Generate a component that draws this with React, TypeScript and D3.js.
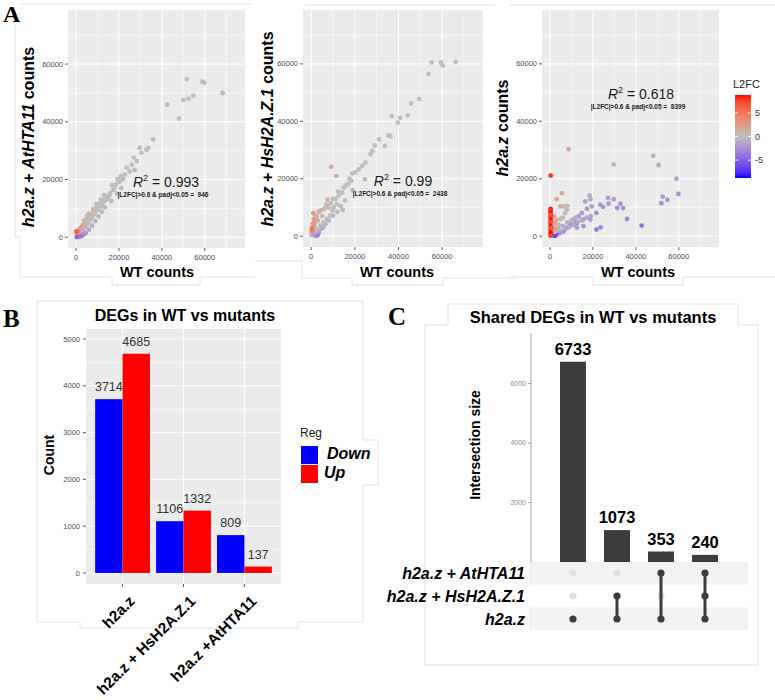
import React from "react";
import * as d3 from "d3";

const FONT = "'Liberation Sans', Arial, Helvetica, sans-serif";
const SERIF = "'Liberation Serif', 'Times New Roman', serif";

// Panel A: [WT counts (thousands), mutant counts (thousands), L2FC]
const atHTA11Points: number[][] = [
  [68.3, 50.0, -0.4], [59.7, 53.5, -0.1], [58.9, 53.9, -0.1], [51.6, 54.8, 0.1], [54.7, 49.1, -0.1],
  [52.4, 48.0, -0.1], [50.0, 47.6, -0.1], [42.5, 45.9, 0.1], [48.0, 41.1, -0.2],
  [35.9, 33.9, -0.1], [33.6, 30.9, -0.1], [32.8, 30.3, -0.1], [29.6, 31.0, 0.1], [30.5, 29.2, 0],
  [26.9, 27.6, 0], [28.3, 26.4, -0.1], [26.0, 25.1, 0], [27.4, 23.3, -0.2], [25.0, 22.8, -0.1],
  [23.6, 24.1, 0], [22.8, 21.7, 0], [21.9, 20.1, -0.1], [20.9, 21.2, 0], [20.3, 19.3, 0],
  [19.4, 20.1, 0.1], [18.8, 18.4, 0], [18.0, 17.3, 0], [17.3, 16.4, -0.1], [16.8, 18.0, 0.1],
  [15.9, 15.3, 0], [15.4, 14.4, -0.1], [14.8, 13.3, -0.1], [14.0, 14.1, 0], [13.4, 12.6, 0],
  [12.9, 13.0, 0], [12.4, 11.9, 0], [11.9, 10.9, 0], [11.5, 11.6, 0.1], [11.0, 10.4, 0],
  [10.4, 11.1, 0.1], [10.0, 9.4, 0], [9.5, 10.1, 0.1], [9.0, 8.8, 0], [8.5, 7.9, 0],
  [8.0, 8.6, 0.3], [7.5, 6.9, 0], [7.0, 7.6, 0.4], [6.5, 5.9, 0], [6.0, 8.1, 0.9],
  [6.1, 5.4, 0], [5.5, 4.9, 0], [5.0, 6.6, 1.1], [5.1, 4.3, -0.2], [4.5, 3.9, -0.2],
  [4.0, 5.2, 1.3], [4.0, 3.3, -0.3], [3.5, 2.9, -0.3], [3.0, 4.1, 1.6], [3.0, 2.3, -0.5],
  [2.5, 1.9, -0.6], [2.0, 3.1, 2.2], [2.0, 1.3, -0.8], [1.5, 0.9, -1.2], [1.0, 2.2, 3.2],
  [8.0, 9.8, 0.3], [9.5, 11.5, 0.3], [11.5, 13.0, 0.2], [13.0, 14.6, 0.2], [5.2, 7.5, 0.6],
  [3.8, 5.8, 0.8], [16.5, 12.5, -0.4], [19.0, 15.2, -0.3], [21.0, 17.0, -0.3],
  [13.5, 10.3, -0.3], [12.0, 8.8, -0.4], [10.5, 7.2, -0.5], [9.0, 5.6, -0.7], [7.5, 4.0, -0.9],
  [6.0, 2.6, -1.2], [4.5, 1.4, -1.8], [3.5, 0.8, -2.5], [2.5, 0.4, -3.5], [1.5, 0.2, -4],
  [1.0, 0.4, -2.5], [0.4, 0.1, -5], [0.5, 1.5, 4.2], [0.2, 2.0, 6.5],
];

const hsH2AZ1Points: number[][] = [
  [66.2, 60.7, -0.1], [59.5, 60.5, 0], [60.3, 59.4, 0], [55.2, 60.5, 0.1], [53.8, 56.5, 0],
  [49.5, 47.8, 0], [45.8, 46.2, 0], [44.2, 42.0, 0], [40.8, 41.2, 0], [39.7, 39.5, 0], [36.9, 41.8, 0.1],
  [35.4, 35.1, 0], [36.3, 34.8, 0], [33.8, 31.4, -0.1], [31.1, 33.7, 0.1], [29.1, 31.6, 0.1],
  [28.0, 29.7, 0.1], [27.2, 28.5, 0], [24.9, 25.6, 0], [23.4, 24.5, 0], [21.8, 23.3, 0],
  [20.3, 22.2, 0.1], [18.8, 21.9, 0.2], [24.6, 19.8, -0.3], [18.5, 19.3, 0], [16.9, 18.1, 0.1],
  [14.9, 17.0, 0.1], [14.2, 15.2, 0], [12.6, 14.1, 0.1], [11.1, 12.9, 0.2], [11.8, 11.2, 0],
  [10.3, 10.0, 0], [9.8, 8.9, 0], [14.5, 9.2, -0.5], [8.8, 7.2, -0.1], [7.2, 6.0, -0.1],
  [5.7, 4.8, -0.1], [4.2, 3.7, -0.1], [2.6, 2.5, 0],
  [9.2, 24.2, 1.4], [11.5, 21.0, 0.9], [7.4, 12.7, 0.9],
  [16.0, 17.8, 0.1], [17.5, 20.0, 0.2], [12.5, 15.5, 0.3], [10.0, 13.0, 0.3], [9.0, 11.5, 0.3],
  [8.0, 10.0, 0.3], [7.0, 11.0, 0.6], [6.0, 9.5, 0.6], [5.0, 7.0, 0.5], [4.5, 9.0, 0.9],
  [3.5, 8.5, 1.2], [3.0, 5.5, 1.0], [2.5, 7.0, 1.4], [2.0, 5.0, 1.5], [1.5, 3.5, 1.8],
  [1.2, 6.0, 2.5], [1.0, 8.0, 2.5], [0.8, 4.5, 3], [0.5, 3.0, 3.5], [0.3, 1.5, 3],
  [0.2, 0.5, 2], [1.0, 1.0, 0.5], [19.0, 16.0, -0.2], [15.5, 12.5, -0.2], [13.5, 10.5, -0.2],
  [12.0, 8.5, -0.4], [10.0, 7.2, -0.4], [8.0, 5.5, -0.5], [6.5, 4.2, -0.7], [5.5, 3.0, -1],
  [4.5, 2.5, -1], [3.5, 1.2, -2], [3.0, 0.5, -3], [2.5, 0.2, -4], [2.0, 1.5, -0.3],
  [1.5, 0.3, -2], [0.5, 2.0, 4], [0.3, 2.5, 5],
];

const h2azPoints: number[][] = [
  [8.6, 30.3, 1.5], [29.7, 25.0, -0.5], [48.1, 28.0, -1.0], [50.6, 24.8, -1.3], [58.9, 20.0, -1.5],
  [59.8, 14.7, -2.0], [52.5, 13.8, -2.0], [51.9, 11.5, -2.3], [54.7, 12.7, -2.2], [42.7, 3.7, -4.0],
  [35.9, 6.0, -3.0], [34.1, 9.8, -2.5], [32.8, 11.3, -2.3], [31.3, 9.8, -2.4], [27.0, 13.3, -1.7],
  [29.7, 12.9, -1.8], [27.3, 11.3, -2.0], [24.7, 10.2, -2.0], [23.4, 11.0, -2.0], [21.6, 8.1, -2.5],
  [21.6, 2.3, -3.5], [23.6, 3.1, -3.0], [18.8, 12.9, -1.3], [18.4, 14.1, -1.2], [16.4, 12.1, -1.4],
  [19.5, 10.4, -1.8], [17.2, 9.5, -2.0], [14.8, 8.1, -2.0], [13.3, 6.9, -2.2], [15.3, 5.8, -2.6],
  [12.5, 4.6, -2.8], [10.9, 5.8, -2.0], [9.4, 4.0, -2.5], [7.8, 2.9, -3.0], [6.3, 1.7, -3.5],
  [4.7, 1.2, -4.0], [3.1, 0.6, -5.0], [1.6, 0.2, -6.0], [2.3, 0.1, -6.5],
  [19.0, 7.0, -1.3], [17.0, 6.5, -1.2], [15.0, 5.5, -1.3], [13.0, 5.0, -1.2], [11.0, 4.0, -1.3],
  [9.0, 3.2, -1.3], [7.0, 2.5, -1.4], [5.0, 1.5, -1.5], [12.0, 6.5, -0.9], [10.0, 5.5, -0.8],
  [8.0, 4.8, -0.7], [6.0, 3.5, -0.8], [4.0, 2.5, -0.6], [3.0, 2.0, -0.4], [2.0, 1.5, -0.3],
  [15.6, 3.5, -2.4], [18.8, 5.8, -1.9], [12.5, 3.0, -2.0],
  [7.0, 8.1, 0.2], [7.8, 9.2, 0], [6.3, 10.4, 0.5], [4.7, 10.4, 1.0], [5.5, 15.0, 1.5],
  [3.1, 12.9, 2.0], [8.1, 10.6, 0.3], [1.6, 6.9, 3.0], [3.1, 5.8, 1.5], [2.3, 4.6, 2.0],
  [5.0, 6.0, 0.5], [4.0, 4.0, 0.6], [6.0, 6.5, 0.2], [2.5, 3.0, 1.2], [1.5, 2.5, 2.5],
  [0.3, 9.5, 8.5], [0.2, 9.0, 8.0], [0.3, 8.1, 8.8], [0.2, 6.9, 8.2], [0.3, 5.8, 8.6],
  [0.2, 4.6, 8.0], [0.3, 3.5, 8.7], [0.2, 2.3, 8.3], [0.3, 1.2, 8.8], [0.2, 0.2, 7.5],
  [0.4, 7.5, 7.0], [0.4, 5.0, 7.2], [0.5, 2.8, 6.5], [0.3, 21.1, 8.0],
];

const countsDomain = [-3750, 78750];
const scatterTicks = [0, 20000, 40000, 60000];
const scatterMinor = [10000, 30000, 50000, 70000];
const l2fcLimits = [-8.8, 8.8];
const l2fcTicks = [5, 0, -5];

// Panel B
const degCategories = ["h2a.z", "h2a.z + HsH2A.Z.1", "h2a.z +AtHTA11"];
const degDown = [3714, 1106, 809];
const degUp = [4685, 1332, 137];
const degTicks = [0, 1000, 2000, 3000, 4000, 5000];
const degMinor = [500, 1500, 2500, 3500, 4500];
const regLabels = ["Down", "Up"];

// Panel C
const upsetSets = ["h2a.z + AtHTA11", "h2a.z + HsH2A.Z.1", "h2a.z"];
const upsetSizes = [6733, 1073, 353, 240];
const upsetMembership = [
  [false, false, true],
  [false, true, true],
  [true, false, true],
  [true, true, true],
];
const upsetTicks = [2000, 4000, 6000];

const colorL2FC = d3
  .scaleLinear<string>()
  .domain([l2fcLimits[0], 0, l2fcLimits[1]])
  .range(["#0000FF", "#BEBEBE", "#FF0000"])
  .interpolate(d3.interpolateLab)
  .clamp(true);

const fmt = (v: number) => String(v);

type ScatterProps = {
  id: string;
  left: number; right: number; top: number; bottom: number;
  points: number[][];
  ylab: string;
  ylabX: number; ylabY: number;
  xlabX: number;
  r2: string; r2X: number; r2Y: number;
  count: number;
  clipX: number;
};

function Scatter(p: ScatterProps) {
  const x = d3.scaleLinear().domain(countsDomain).range([p.left, p.right]);
  const y = d3.scaleLinear().domain(countsDomain).range([p.bottom, p.top]);
  return (
    <g>
      <defs>
        <clipPath id={"clip-" + p.id}>
          <rect x={p.clipX} y={0} width={400} height={300} />
        </clipPath>
      </defs>
      <rect x={p.left} y={p.top} width={p.right - p.left} height={p.bottom - p.top} fill="#EBEBEB" />
      {scatterMinor.map((v) => (
        <g key={"m" + v}>
          {x(v) < p.right && <line x1={x(v)} x2={x(v)} y1={p.top} y2={p.bottom} stroke="#fff" strokeWidth={0.5} />}
          {y(v) > p.top && <line x1={p.left} x2={p.right} y1={y(v)} y2={y(v)} stroke="#fff" strokeWidth={0.5} />}
        </g>
      ))}
      {scatterTicks.map((v) => (
        <g key={"M" + v}>
          <line x1={x(v)} x2={x(v)} y1={p.top} y2={p.bottom} stroke="#fff" strokeWidth={1} />
          <line x1={p.left} x2={p.right} y1={y(v)} y2={y(v)} stroke="#fff" strokeWidth={1} />
        </g>
      ))}
      {p.points.map((d, i) => (
        <circle key={i} cx={x(d[0] * 1000)} cy={y(d[1] * 1000)} r={2.4} fill={colorL2FC(d[2])} />
      ))}
      {scatterTicks.map((v) => (
        <g key={"t" + v} fontFamily={FONT} fontSize={7.5} fill="#4D4D4D">
          <line x1={x(v)} x2={x(v)} y1={p.bottom} y2={p.bottom + 3} stroke="#333" strokeWidth={0.8} />
          <text x={x(v)} y={p.bottom + 11.5} textAnchor="middle">{fmt(v)}</text>
          <line x1={p.left - 3} x2={p.left} y1={y(v)} y2={y(v)} stroke="#333" strokeWidth={0.8} />
          <text x={p.left - 5} y={y(v)} dy="0.35em" textAnchor="end" clipPath={`url(#clip-${p.id})`}>{fmt(v)}</text>
        </g>
      ))}
      <text x={p.xlabX} y={277} textAnchor="middle" fontFamily={FONT} fontWeight="bold" fontSize={14.5} fill="#000">WT counts</text>
      <text transform={`translate(${p.ylabX},${p.ylabY}) rotate(-90)`} dy="0.35em" textAnchor="middle" fontFamily={FONT} fontWeight="bold" fontSize={16} fill="#000">
        {p.ylab.split(/(\s\+\s|\scounts)/).filter((s) => s.length).map((s, i) => (
          <tspan key={i} fontStyle={/^\s/.test(s) ? "normal" : "italic"}>{s}</tspan>
        ))}
      </text>
      <text x={p.r2X} y={p.r2Y} textAnchor="middle" fontFamily={FONT} fontSize={14} fill="#1a1a1a">
        <tspan fontStyle="italic">R</tspan>
        <tspan dy={-6} fontSize={9}>2</tspan>
        <tspan dy={6}>{" = " + p.r2}</tspan>
      </text>
      <text x={p.r2X - 3} y={p.r2Y + 10} textAnchor="middle" fontFamily={FONT} fontWeight="bold" fontSize={6.5} fill="#1a1a1a" style={{ whiteSpace: "pre" }}>
        {"|L2FC|>0.6 & padj<0.05 =  " + p.count}
      </text>
    </g>
  );
}

function ColorLegend() {
  const bx = 735, bw = 16, btop = 95, bbot = 178;
  const yc = d3.scaleLinear().domain(l2fcLimits).range([bbot, btop]);
  const stops = d3.range(0, 21).map((i) => l2fcLimits[0] + (i / 20) * (l2fcLimits[1] - l2fcLimits[0]));
  return (
    <g fontFamily={FONT}>
      <defs>
        <linearGradient id="l2fcGrad" x1="0" y1="1" x2="0" y2="0">
          {stops.map((v, i) => (
            <stop key={i} offset={i / 20} stopColor={colorL2FC(v)} />
          ))}
        </linearGradient>
      </defs>
      <text x={733} y={88} fontSize={11} fill="#1a1a1a">L2FC</text>
      <rect x={bx} y={btop} width={bw} height={bbot - btop} fill="url(#l2fcGrad)" />
      {l2fcTicks.map((v) => (
        <g key={v}>
          <line x1={bx} x2={bx + 3} y1={yc(v)} y2={yc(v)} stroke="#fff" strokeWidth={0.8} />
          <line x1={bx + bw - 3} x2={bx + bw} y1={yc(v)} y2={yc(v)} stroke="#fff" strokeWidth={0.8} />
          <text x={755} y={yc(v)} dy="0.35em" fontSize={9} fill="#333">{v}</text>
        </g>
      ))}
    </g>
  );
}

function PanelB() {
  const left = 86, right = 281, top = 329, bottom = 584;
  const y = d3.scaleLinear().domain([-236, 5214]).range([bottom, top]);
  const unit = (right - left) / (degCategories.length + 0.2);
  const xc = d3.scaleLinear().domain([-0.6, degCategories.length - 1 + 0.6]).range([left, right]);
  const bw = unit * 0.45;
  return (
    <g fontFamily={FONT}>
      <defs>
        <clipPath id="clipB">
          <rect x={0} y={300} width={400} height={107} />
          <rect x={61} y={407} width={400} height={93} />
          <rect x={0} y={500} width={400} height={100} />
        </clipPath>
      </defs>
      <text x={185} y={321} textAnchor="middle" fontWeight="bold" fontSize={16} fill="#000">DEGs in WT vs mutants</text>
      <rect x={left} y={top} width={right - left} height={bottom - top} fill="#EBEBEB" />
      {degMinor.map((v) => (
        <line key={v} x1={left} x2={right} y1={y(v)} y2={y(v)} stroke="#fff" strokeWidth={0.5} />
      ))}
      {degTicks.map((v) => (
        <line key={v} x1={left} x2={right} y1={y(v)} y2={y(v)} stroke="#fff" strokeWidth={1} />
      ))}
      {degCategories.map((c, i) => (
        <line key={c} x1={xc(i)} x2={xc(i)} y1={top} y2={bottom} stroke="#fff" strokeWidth={1} />
      ))}
      {degCategories.map((c, i) => (
        <g key={"b" + c}>
          <rect x={xc(i) - bw} y={y(degDown[i])} width={bw} height={y(0) - y(degDown[i])} fill="#0000FF" />
          <rect x={xc(i)} y={y(degUp[i])} width={bw} height={y(0) - y(degUp[i])} fill="#FF0000" />
          <text x={xc(i) - bw / 2} y={y(degDown[i]) - 8} textAnchor="middle" fontSize={12.5} fill="#333">{degDown[i]}</text>
          <text x={xc(i) + bw / 2} y={y(degUp[i]) - 8} textAnchor="middle" fontSize={12.5} fill="#333">{degUp[i]}</text>
        </g>
      ))}
      {degTicks.map((v) => (
        <g key={"t" + v}>
          <line x1={left - 3} x2={left} y1={y(v)} y2={y(v)} stroke="#333" strokeWidth={0.8} />
          <text x={left - 6} y={y(v)} dy="0.35em" textAnchor="end" fontSize={7.5} fill="#4D4D4D" clipPath="url(#clipB)">{v}</text>
        </g>
      ))}
      {degCategories.map((c, i) => (
        <g key={"x" + c}>
          <line x1={xc(i)} x2={xc(i)} y1={bottom} y2={bottom + 3} stroke="#333" strokeWidth={0.8} />
          <text transform={`translate(${xc(i) + 5},${bottom + 10}) rotate(-45)`} textAnchor="end" dy="0.75em" fontWeight="bold" fontSize={15.3} fill="#000" style={{ whiteSpace: "pre" }}>{c}</text>
        </g>
      ))}
      <text transform={`translate(49,455) rotate(-90)`} dy="0.35em" textAnchor="middle" fontWeight="bold" fontSize={14} fill="#000">Count</text>
      <text x={300} y={437} fontSize={12} fill="#1a1a1a">Reg</text>
      {regLabels.map((r, i) => (
        <g key={r}>
          <rect x={301} y={446 + i * 19} width={17} height={18} fill={i === 0 ? "#0000FF" : "#FF0000"} />
          <text x={i === 0 ? 327 : 324} y={459 + i * 19} fontSize={16} fontWeight="bold" fontStyle="italic" fill="#000">{r}</text>
        </g>
      ))}
    </g>
  );
}

function PanelC() {
  const axisX = 531, top = 333, base = 562;
  const y = d3.scaleLinear().domain([0, 7700]).range([base, top]);
  const xc = d3.scalePoint<number>().domain(d3.range(upsetSizes.length)).range([573, 705]);
  const ry = d3.scalePoint<string>().domain(upsetSets).range([573, 619]);
  const bw = 26;
  return (
    <g fontFamily={FONT}>
      <text x={593} y={323} textAnchor="middle" fontWeight="bold" fontSize={16.5} fill="#000">Shared DEGs in WT vs mutants</text>
      {upsetSets.map((s, i) =>
        i % 2 === 0 ? (
          <rect key={s} x={529} y={(ry(s) as number) - 11.5} width={219} height={23} fill="#F2F2F2" />
        ) : null
      )}
      <line x1={axisX} x2={axisX} y1={top} y2={base} stroke="#8c8c8c" strokeWidth={0.8} />
      {upsetTicks.map((v) => (
        <g key={v}>
          <line x1={axisX - 3} x2={axisX} y1={y(v)} y2={y(v)} stroke="#8c8c8c" strokeWidth={0.8} />
          <text x={axisX - 5} y={y(v)} dy="0.35em" textAnchor="end" fontSize={7} fill="#8c8c8c">{v}</text>
        </g>
      ))}
      {upsetSizes.map((v, i) => (
        <g key={i}>
          <rect x={(xc(i) as number) - bw / 2} y={y(v)} width={bw} height={y(0) - y(v)} fill="#3C3C3C" />
          <text x={xc(i)} y={y(v) - 7} textAnchor="middle" fontWeight="bold" fontSize={16.5} fill="#000">{v}</text>
        </g>
      ))}
      {upsetMembership.map((m, i) => {
        const active = upsetSets.filter((_, j) => m[j]).map((s) => ry(s) as number);
        return (
          <g key={"m" + i}>
            {upsetSets.map((s, j) => (
              <circle key={s} cx={xc(i)} cy={ry(s)} r={3.6} fill={m[j] ? "#3C3C3C" : "#E0E0E0"} />
            ))}
            {active.length > 1 && (
              <line x1={xc(i)} x2={xc(i)} y1={d3.min(active)} y2={d3.max(active)} stroke="#3C3C3C" strokeWidth={3} />
            )}
          </g>
        );
      })}
      {upsetSets.map((s) => (
        <text key={s} x={525} y={ry(s)} dy="0.36em" textAnchor="end" fontWeight="bold" fontStyle="italic" fontSize={16} fill="#000" style={{ whiteSpace: "pre" }}>{s}</text>
      ))}
      <text transform={`translate(475,445) rotate(-90)`} dy="0.35em" textAnchor="middle" fontWeight="bold" fontSize={14} fill="#000">Intersection size</text>
    </g>
  );
}

const borders = [
  "M20,4 H252 M15,10 V237 H20 V277 H112 V285 H200 V277 H255",
  "M305,5 H495 M255,261 H302 V278 H352 V285 H443 V278 H515",
  "M510,5 H775 M510,277 H593 V285 H683 V277 H775",
  "M37,301 H363 V440 H378 V485 H363 V622 H298 V628 H80 V622 H37 Z",
  "M448,325 V304 H738 V325 H758 V665 H425 V325 Z",
];

export default function App() {
  return (
    <svg width={775} height={700} viewBox="0 0 775 700" style={{ display: "block", position: "absolute", left: 0, top: 0, background: "#fff" }}>
      <rect x={0} y={0} width={775} height={700} fill="#fff" />
      {borders.map((d, i) => (
        <path key={i} d={d} fill="none" stroke="#E2E2E2" strokeWidth={1} />
      ))}
      <Scatter id="a1" left={68} right={245} top={10} bottom={248} points={atHTA11Points}
        ylab="h2a.z + AtHTA11 counts" ylabX={28} ylabY={137} xlabX={157}
        r2="0.993" r2X={166} r2Y={187} count={946} clipX={0} />
      <Scatter id="a2" left={303} right={483} top={10} bottom={247} points={hsH2AZ1Points}
        ylab="h2a.z + HsH2A.Z.1 counts" ylabX={267} ylabY={129} xlabX={397}
        r2="0.99" r2X={403} r2Y={186} count={2438} clipX={277} />
      <Scatter id="a3" left={542} right={719} top={10} bottom={247} points={h2azPoints}
        ylab="h2a.z counts" ylabX={502} ylabY={128} xlabX={638}
        r2="0.618" r2X={641} r2Y={99} count={8399} clipX={516} />
      <ColorLegend />
      <PanelB />
      <PanelC />
      <text x={3} y={22} fontFamily={SERIF} fontWeight="bold" fontSize={24} fill="#000">A</text>
      <text x={3} y={327} fontFamily={SERIF} fontWeight="bold" fontSize={25} fill="#000">B</text>
      <text x={388} y={325} fontFamily={SERIF} fontWeight="bold" fontSize={25} fill="#000">C</text>
    </svg>
  );
}
